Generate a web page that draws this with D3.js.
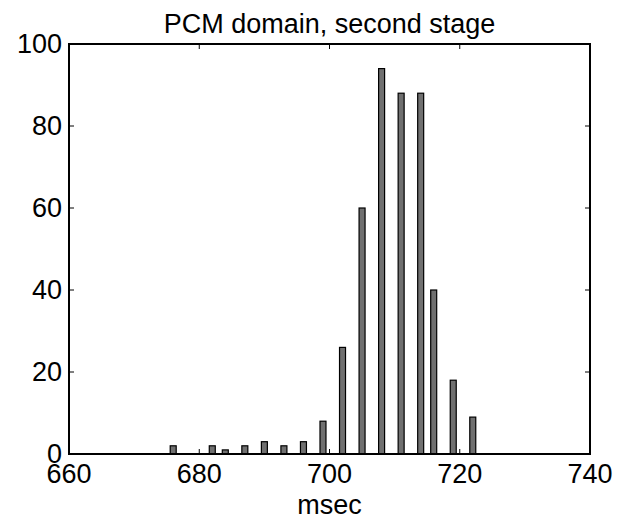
<!DOCTYPE html>
<html>
<head>
<meta charset="utf-8">
<script src="https://cdn.jsdelivr.net/npm/d3@7/dist/d3.min.js"></script>
<style>
  html, body { margin: 0; padding: 0; background: #fff; }
  text { font-family: "Liberation Sans", Arial, Helvetica, sans-serif; fill: #000; }
</style>
</head>
<body>
<svg id="chart" width="628" height="524"></svg>
<script>
// Histogram bin centres (msec) and counts
const binCenters = [676, 682, 684, 687, 690, 693, 696, 699, 702, 705, 708, 711, 714, 716, 719, 722];
const counts     = [2,   2,   1,   2,   3,   2,   3,   8,   26,  60,  94,  88,  88,  40,  18,  9];
const xTicks = [660, 680, 700, 720, 740];
const yTicks = [0, 20, 40, 60, 80, 100];
const title = "PCM domain, second stage";
const xLabel = "msec";

const svg = d3.select("#chart");
const m = { left: 69, right: 628 - 590, top: 44, bottom: 524 - 454 };
const W = 628 - m.left - m.right, H = 524 - m.top - m.bottom;

const x = d3.scaleLinear().domain([660, 740]).range([m.left, m.left + W]);
const y = d3.scaleLinear().domain([0, 100]).range([m.top + H, m.top]);
const barW = 0.92; // msec

const g = svg.append("g");

// bars
g.selectAll("rect.bar").data(binCenters).join("rect")
  .attr("class", "bar")
  .attr("x", (d) => x(d - barW / 2))
  .attr("width", x(660 + barW) - x(660))
  .attr("y", (d, i) => y(counts[i]))
  .attr("height", (d, i) => y(0) - y(counts[i]))
  .attr("fill", "#707070")
  .attr("stroke", "#000")
  .attr("stroke-width", 1.2);

// inward ticks on all four sides
const tl = 5;
const tickG = svg.append("g").attr("stroke", "#000").attr("stroke-width", 1);
xTicks.forEach(t => {
  tickG.append("line").attr("x1", x(t)).attr("x2", x(t)).attr("y1", y(0)).attr("y2", y(0) - tl);
  tickG.append("line").attr("x1", x(t)).attr("x2", x(t)).attr("y1", y(100)).attr("y2", y(100) + tl);
});
yTicks.forEach(t => {
  tickG.append("line").attr("x1", x(660)).attr("x2", x(660) + tl).attr("y1", y(t)).attr("y2", y(t));
  tickG.append("line").attr("x1", x(740)).attr("x2", x(740) - tl).attr("y1", y(t)).attr("y2", y(t));
});

// box
svg.append("rect")
  .attr("x", m.left).attr("y", m.top).attr("width", W).attr("height", H)
  .attr("fill", "none").attr("stroke", "#000").attr("stroke-width", 2);

// tick labels
const fs = 27;
svg.append("g").selectAll("text").data(xTicks).join("text")
  .attr("x", d => x(d)).attr("y", y(0) + 29)
  .attr("text-anchor", "middle").attr("font-size", fs)
  .text(d => d);
svg.append("g").selectAll("text").data(yTicks).join("text")
  .attr("x", m.left - 7).attr("y", d => y(d) + 9)
  .attr("text-anchor", "end").attr("font-size", fs)
  .text(d => d);

// title and axis label
svg.append("text").attr("x", m.left + W / 2).attr("y", 33)
  .attr("text-anchor", "middle").attr("font-size", fs).text(title);
svg.append("text").attr("x", m.left + W / 2).attr("y", 514)
  .attr("text-anchor", "middle").attr("font-size", fs).text(xLabel);
</script>
</body>
</html>
